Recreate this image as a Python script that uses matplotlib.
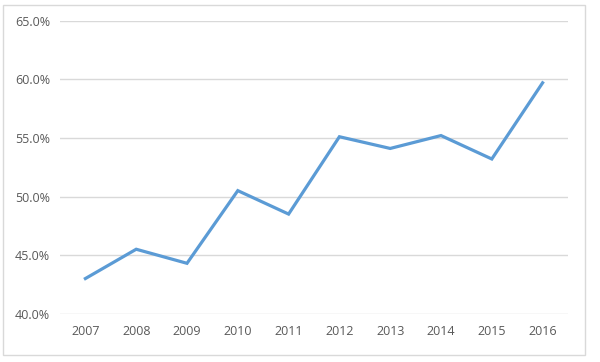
import matplotlib
matplotlib.use("Agg")
import matplotlib.pyplot as plt
from matplotlib.patches import Rectangle
from matplotlib.ticker import FuncFormatter

years = ["2007", "2008", "2009", "2010", "2011", "2012", "2013", "2014", "2015", "2016"]
values = [43.0, 45.5, 44.3, 50.5, 48.5, 55.1, 54.1, 55.2, 53.2, 59.7]
y_ticks = [40, 45, 50, 55, 60, 65]

plt.rcParams['font.family'] = ['Open Sans', 'DejaVu Sans']

fig = plt.figure(figsize=(6.0, 3.62), dpi=100)
fig.patch.set_facecolor('white')
fig.patches.append(Rectangle((3/600, 1 - 355/362), 582/600, 350/362,
                             transform=fig.transFigure, fill=False,
                             edgecolor='#D9D9D9', linewidth=1.0))

ax = fig.add_axes([60/600, 1 - 313.7/362, 508/600, 293/362])
x = list(range(len(years)))
ax.plot(x, values, color='#5B9BD5', linewidth=2.3, solid_joinstyle='miter', zorder=3)

ax.set_xlim(-0.5, len(years) - 0.5)
ax.set_ylim(40, 65)
ax.set_yticks(y_ticks)
ax.yaxis.set_major_formatter(FuncFormatter(lambda v, p: f"{v:.1f}%"))
ax.set_xticks(x)
ax.set_xticklabels(years)

ax.grid(axis='y', color='#D9D9D9', linewidth=1.0)
ax.set_axisbelow(True)
for s in ax.spines.values():
    s.set_visible(False)
ax.tick_params(axis='both', length=0, labelsize=9, colors='#595959')
ax.tick_params(axis='y', pad=7)
ax.tick_params(axis='x', pad=8)

fig.savefig("out.png", dpi=100, facecolor='white')
